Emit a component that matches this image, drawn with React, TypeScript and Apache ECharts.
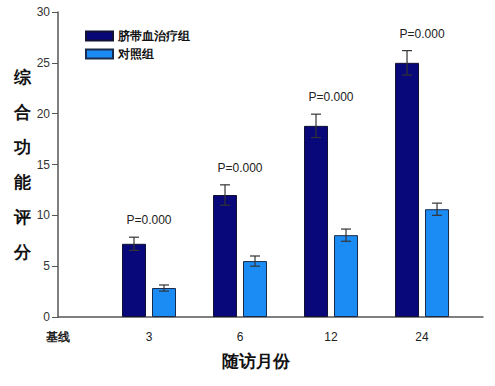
import React, { useEffect, useRef } from "react";
import * as echarts from "echarts";

const categories = ["基线", "3", "6", "12", "24"];
const treatment = [null, 7.2, 12.0, 18.8, 25.0];
const control = [null, 2.85, 5.5, 8.05, 10.6];
const treatmentErr = [null, 0.65, 1.0, 1.15, 1.2];
const controlErr = [null, 0.3, 0.5, 0.6, 0.6];
const pLabels = ["", "P=0.000", "P=0.000", "P=0.000", "P=0.000"];
const yTicks = [0, 5, 10, 15, 20, 25, 30];

const DARK = "#08087a";
const LIGHT = "#1c8cf5";

export default function App() {
  const ref = useRef<HTMLDivElement>(null);
  useEffect(() => {
    if (!ref.current) return;
    const chart = echarts.init(ref.current, null, { renderer: "svg" });

    const toPairs = (arr: (number | null)[]) =>
      arr.map((v, i) => (v == null ? null : [i, v])).filter((d) => d != null);

    const errData: any[] = [];
    categories.forEach((_, i) => {
      if (treatment[i] != null)
        errData.push([i, treatment[i], treatmentErr[i], -15, pLabels[i]]);
      if (control[i] != null)
        errData.push([i, control[i], controlErr[i], 15, ""]);
    });

    chart.setOption({
      animation: false,
      textStyle: { fontFamily: "Liberation Sans, Arial, sans-serif" },
      grid: { left: 58, right: 12, top: 12, bottom: 69 },
      legend: {
        orient: "vertical",
        left: 80,
        top: 25,
        itemWidth: 27,
        itemHeight: 9,
        itemGap: 6,
        icon: "rect",
        textStyle: {
          fontFamily: "serif",
          fontSize: 12,
          fontWeight: "bold",
          color: "#111",
        },
        data: ["脐带血治疗组", "对照组"],
      },
      xAxis: {
        type: "value",
        min: 0,
        max: 4.67,
        interval: 1,
        splitLine: { show: false },
        axisLine: { show: true, onZero: false, lineStyle: { color: "#555", width: 1.5 } },
        axisTick: { show: false },
        axisLabel: {
          showMaxLabel: false,
          margin: 14,
          fontSize: 12,
          color: "#222",
          formatter: (v: number) => {
            const i = Math.round(v);
            if (Math.abs(v - i) > 1e-6) return "";
            const c = categories[i] ?? "";
            return i === 0 ? "{cn|" + c + "}" : c;
          },
          rich: {
            cn: { fontFamily: "serif", fontWeight: "bold", fontSize: 12, color: "#222" },
          },
        },
      },
      yAxis: {
        type: "value",
        min: 0,
        max: 30,
        interval: 5,
        splitLine: { show: false },
        axisLine: { show: true, lineStyle: { color: "#555", width: 1.5 } },
        axisTick: { show: true, inside: false, length: 6, lineStyle: { color: "#555" } },
        axisLabel: { fontSize: 12, color: "#333", margin: 8, formatter: (v: number) => (yTicks.includes(v) ? String(v) : "") },
        name: "综\n合\n功\n能\n评\n分",
        nameLocation: "middle",
        nameRotate: 0,
        nameGap: 27,
        nameTextStyle: {
          fontFamily: "serif",
          fontWeight: "bold",
          fontSize: 17,
          lineHeight: 35,
          color: "#111",
          padding: [36, 0, 0, 0],
        },
      },
      graphic: [
        {
          type: "text",
          left: 222,
          top: 353,
          style: {
            text: "随访月份",
            fontFamily: "serif",
            fontWeight: "bold",
            fontSize: 17,
            fill: "#111",
          },
        },
      ],
      series: [
        {
          name: "脐带血治疗组",
          type: "bar",
          data: toPairs(treatment),
          barWidth: 24,
          barGap: "25%",
          itemStyle: { color: DARK, borderColor: "#111133", borderWidth: 1 },
        },
        {
          name: "对照组",
          type: "bar",
          data: toPairs(control),
          barWidth: 24,
          barGap: "25%",
          itemStyle: { color: LIGHT, borderColor: "#1a2a4a", borderWidth: 1 },
        },
        {
          type: "custom",
          data: errData,
          z: 10,
          renderItem: (params: any, api: any) => {
            const x = api.value(0);
            const v = api.value(1);
            const e = api.value(2);
            const off = api.value(3);
            const label = api.value(4);
            const top = api.coord([x, v + e]);
            const bot = api.coord([x, v - e]);
            const cx = top[0] + off;
            const cap = 5;
            const st = { stroke: "#333", lineWidth: 1.2 };
            const children: any[] = [
              { type: "line", shape: { x1: cx, y1: top[1], x2: cx, y2: bot[1] }, style: st },
              { type: "line", shape: { x1: cx - cap, y1: top[1], x2: cx + cap, y2: top[1] }, style: st },
              { type: "line", shape: { x1: cx - cap, y1: bot[1], x2: cx + cap, y2: bot[1] }, style: st },
            ];
            if (label) {
              children.push({
                type: "text",
                x: top[0],
                y: top[1] - 17,
                style: {
                  text: label,
                  fontSize: 12,
                  fontFamily: "Liberation Sans, Arial, sans-serif",
                  fill: "#222",
                  align: "center",
                  verticalAlign: "middle",
                },
              });
            }
            return { type: "group", children };
          },
        },
      ],
    });
    return () => chart.dispose();
  }, []);
  return <div ref={ref} style={{ width: 495, height: 386, position: "absolute", left: 0, top: 0 }} />;
}
